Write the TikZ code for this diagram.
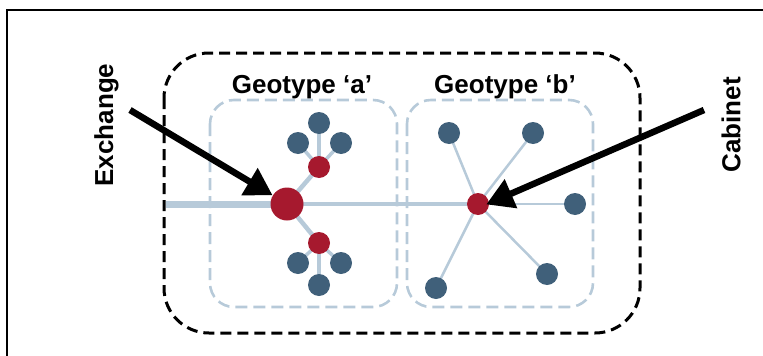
\documentclass[tikz,border=0pt]{standalone}
\usepackage{fontspec}
\setmainfont{Liberation Sans}
\usetikzlibrary{arrows.meta,backgrounds}
\definecolor{nodered}{HTML}{A6192E}
\definecolor{nodeblue}{HTML}{40607A}
\definecolor{linkblue}{HTML}{B7CAD9}
\begin{document}
\begin{tikzpicture}[x=1pt,y=-1pt,
  every node/.style={font=\bfseries\fontsize{26}{30}\selectfont},
  dot/.style={circle,inner sep=0pt,minimum size=22pt},
  red dot/.style={dot,fill=nodered},
  blue dot/.style={dot,fill=nodeblue},
  link/.style={draw=linkblue,line width=#1},
  zone/.style={draw=linkblue,line width=2.6pt,dash pattern=on 12pt off 6pt,rounded corners=24pt},
  pointer/.style={line width=6.5pt,-{Triangle[length=27pt,width=30pt]}}]
\useasboundingbox (0,0) rectangle (763,356);
\draw[line width=1.5pt] (7,356) -- (7,10) -- (763,10);
\draw[line width=3pt,dash pattern=on 11pt off 6pt,rounded corners=45pt] (164,53) rectangle (640,333);
\draw[zone] (210,100) rectangle (397,307);
\draw[zone] (407,100) rectangle (593,307);
\node[anchor=base] (geoa) at (302,93) {Geotype ‘a’};
\node[anchor=base] (geob) at (505,93) {Geotype ‘b’};
\node[rotate=90] (exlabel) at (106.5,125) {Exchange};
\node[rotate=90] (cablabel) at (731,125) {Cabinet};
\coordinate (trunk) at (166,204);
\node[red dot,minimum size=33pt] (exch) at (287,204) {};
\node[red dot] (ra) at (319,167) {};
\node[blue dot] (ra1) at (319,123) {};
\node[blue dot] (ra2) at (298,143) {};
\node[blue dot] (ra3) at (341,143) {};
\node[red dot] (rb) at (319,243) {};
\node[blue dot] (rb1) at (298,263) {};
\node[blue dot] (rb2) at (341,263) {};
\node[blue dot] (rb3) at (319,285) {};
\node[red dot] (cab) at (478,204) {};
\node[blue dot] (c1) at (449,133) {};
\node[blue dot] (c2) at (533,133) {};
\node[blue dot] (c3) at (575,204) {};
\node[blue dot] (c4) at (547,274) {};
\node[blue dot] (c5) at (436,288) {};
\begin{scope}[on background layer]
\draw[link=7pt] (trunk) -- (exch.center);
\draw[link=4.5pt] (exch.center) -- (cab.center);
\draw[link=4.5pt] (exch.center) -- (ra.center);
\draw[link=4.5pt] (exch.center) -- (rb.center);
\foreach \n in {ra1,ra2,ra3} \draw[link=3.5pt] (ra.center) -- (\n.center);
\foreach \n in {rb1,rb2,rb3} \draw[link=3.5pt] (rb.center) -- (\n.center);
\foreach \n in {c1,c2,c3,c4,c5} \draw[link=2.5pt] (cab.center) -- (\n.center);
\end{scope}
\coordinate (extail) at (130,110);
\coordinate (cabtail) at (704,110);
\draw[pointer] (extail) -- (exch);
\draw[pointer,shorten >=9pt] (cabtail) -- ([yshift=-4pt]cab.center);
\end{tikzpicture}
\end{document}
